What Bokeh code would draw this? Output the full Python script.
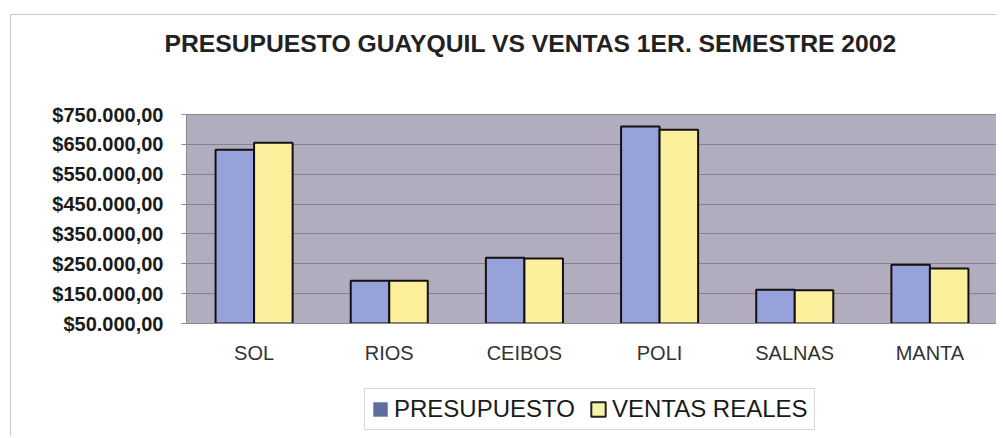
from bokeh.plotting import figure
from bokeh.layouts import column
from bokeh.models import FixedTicker, Legend, LegendItem, ColumnDataSource
from bokeh.transform import dodge
from bokeh.embed import file_html
from bokeh.resources import INLINE

categories = ["SOL", "RIOS", "CEIBOS", "POLI", "SALNAS", "MANTA"]
presupuesto = [632000, 193000, 270000, 710000, 163000, 247000]
ventas_reales = [655000, 193000, 268000, 699000, 161000, 234000]
y_ticks = [50000, 150000, 250000, 350000, 450000, 550000, 650000, 750000]
y_tick_labels = ["$50.000,00", "$150.000,00", "$250.000,00", "$350.000,00",
                 "$450.000,00", "$550.000,00", "$650.000,00", "$750.000,00"]
series_names = ["PRESUPUESTO", "VENTAS REALES"]
title_text = "PRESUPUESTO GUAYQUIL VS VENTAS 1ER. SEMESTRE 2002"

src = ColumnDataSource(dict(cat=categories, pres=presupuesto, vent=ventas_reales))
W = 986
FRAME = "1px solid #c8c8c8"


def blank(height):
    f = figure(width=W, height=height, output_backend="svg", toolbar_location=None,
               x_range=(0, 1), y_range=(0, 1), min_border_left=0, min_border_right=0,
               min_border_top=0, min_border_bottom=0)
    f.axis.visible = False
    f.grid.visible = False
    f.outline_line_color = None
    f.background_fill_color = "white"
    f.border_fill_color = "white"
    return f


# title strip
p0 = blank(86)
p0.margin = (14, 0, 0, 10)
p0.styles = {"border-top": FRAME, "border-left": FRAME}
p0.title.text = title_text
p0.title.align = "left"
p0.title.offset = -22
p0.title.standoff = 24
p0.title.text_font = "Liberation Sans"
p0.title.text_font_style = "bold"
p0.title.text_font_size = "24.7px"
p0.title.text_color = "#222222"

# chart
p = figure(x_range=categories, y_range=(50000, 750000), width=W, height=286,
           output_backend="svg", toolbar_location=None,
           min_border_left=175, min_border_right=0, min_border_top=14,
           min_border_bottom=63)
p.margin = (0, 0, 0, 10)
p.styles = {"border-left": FRAME}
p.background_fill_color = "#b2adbe"
p.border_fill_color = "white"
p.outline_line_color = "#8a8896"
p.outline_line_width = 1

bw = 0.285
r1 = p.vbar(x=dodge("cat", -bw / 2, range=p.x_range), top="pres", bottom=50000,
            width=bw, source=src, fill_color="#98a2da", line_color="#111111",
            line_width=2)
r2 = p.vbar(x=dodge("cat", bw / 2, range=p.x_range), top="vent", bottom=50000,
            width=bw, source=src, fill_color="#fdf09c", line_color="#111111",
            line_width=2)

p.xgrid.grid_line_color = None
p.ygrid.grid_line_color = "#85818f"
p.ygrid.grid_line_width = 1

p.yaxis.ticker = FixedTicker(ticks=y_ticks)
p.yaxis.major_label_overrides = {t: l for t, l in zip(y_ticks, y_tick_labels)}
p.yaxis.major_label_text_font = "Liberation Sans"
p.yaxis.major_label_text_font_style = "bold"
p.yaxis.major_label_text_font_size = "20px"
p.yaxis.major_label_text_color = "#1a1a1a"
p.yaxis.axis_line_color = None
p.yaxis.major_tick_line_color = "#8a8896"
p.yaxis.major_tick_out = 5
p.yaxis.major_tick_in = 0
p.yaxis.minor_tick_line_color = None
p.yaxis.major_label_standoff = 18

p.xaxis.axis_line_color = "#8a8896"
p.xaxis.major_tick_line_color = None
p.xaxis.major_label_text_font = "Liberation Sans"
p.xaxis.major_label_text_font_size = "20px"
p.xaxis.major_label_text_color = "#333333"
p.xaxis.major_label_standoff = 12

# legend strip
p2 = blank(50)
p2.margin = (0, 0, 0, 10)
p2.styles = {"border-left": FRAME}
swatch = ColumnDataSource(dict(x=[5], top=[5]))
lg1 = p2.vbar(x="x", top="top", width=0.1, source=swatch,
              fill_color="#5f6c9e", line_color=None)
lg2 = p2.vbar(x="x", top="top", width=0.1, source=swatch,
              fill_color="#f2f4a6", line_color="#222222", line_width=2)

legend = Legend(items=[LegendItem(label=series_names[0], renderers=[lg1]),
                       LegendItem(label=series_names[1], renderers=[lg2])],
                orientation="horizontal", location=(178, 6))
legend.label_text_font = "Liberation Sans"
legend.label_text_font_size = "24px"
legend.label_text_color = "#1a1a1a"
legend.glyph_width = 18
legend.glyph_height = 18
legend.label_standoff = 5
legend.spacing = 14
legend.padding = 6
legend.margin = 0
legend.border_line_color = "#b0b0b0"
legend.background_fill_color = "white"
legend.background_fill_alpha = 1
p2.add_layout(legend)

layout = column(p0, p, p2, spacing=0)
open("out.html", "w").write(file_html(layout, INLINE))
